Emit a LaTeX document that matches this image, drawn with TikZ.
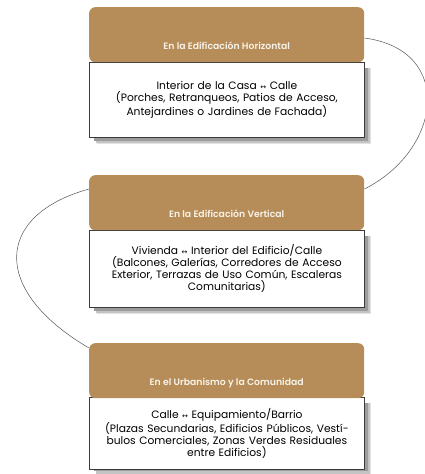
\documentclass[tikz,border=0pt]{standalone}
\usepackage{fontspec}
\setmainfont{Poppins}[BoldFont={Poppins SemiBold}]
\newfontfamily\symfont{DejaVu Sans}
\definecolor{hdr}{HTML}{B68D58}
\definecolor{hdrtxt}{HTML}{F8F3EA}
\definecolor{bord}{HTML}{3A3A3A}
\definecolor{linkc}{HTML}{555555}
\definecolor{shA}{HTML}{E2E2E2}
\definecolor{shB}{HTML}{C4C4C4}
\definecolor{shC}{HTML}{9C9C9C}
\newcommand{\lrar}{{\symfont\scriptsize ↔}}
\begin{document}
\begin{tikzpicture}[x=1pt,y=-1pt,
 header/.style={fill=hdr, rounded corners=6pt, minimum width=275pt, inner sep=0pt,
   text height=42pt, text depth=13pt, text=hdrtxt,
   font=\bfseries\fontsize{9.3}{11}\selectfont, anchor=north west},
 body/.style={draw=bord, line width=0.8pt, fill=white, minimum width=275pt,
   inner xsep=3pt, text width=268pt, align=center, anchor=north west,
   font=\fontsize{10.7}{12}\selectfont},
 link/.style={draw=linkc, line width=0.5pt}]
\useasboundingbox (0,0) rectangle (425,474);

% shadows of the white boxes
\fill[shA] (97,68) rectangle (371,144);
\fill[shB] (95.5,68) rectangle (369.5,142.5);
\fill[shC] (94,68) rectangle (368,141);
\fill[shA] (97,236) rectangle (371,314);
\fill[shB] (95.5,236) rectangle (369.5,312.5);
\fill[shC] (94,236) rectangle (368,311);
\fill[shA] (97,403) rectangle (371,474);
\fill[shB] (95.5,403) rectangle (369.5,474);
\fill[shC] (94,403) rectangle (368,471);

\node[body, minimum height=75pt] (b1) at (89,62) {Interior de la Casa \lrar{} Calle\\(Porches, Retranqueos, Patios de Acceso,\\Antejardines o Jardines de Fachada)};
\node[header] (h1) at (89,7) {En la Edificación Horizontal};

\node[body, minimum height=77pt] (b2) at (89,230) {Vivienda \lrar{} Interior del Edificio/Calle\\(Balcones, Galerías, Corredores de Acceso\\Exterior, Terrazas de Uso Común, Escaleras\\Comunitarias)};
\node[header] (h2) at (89,175) {En la Edificación Vertical};

\node[body, minimum height=72pt] (b3) at (89,397) {Calle \lrar{} Equipamiento/Barrio\\(Plazas Secundarias, Edificios Públicos, Vestí-\\bulos Comerciales, Zonas Verdes Residuales\\entre Edificios)};
\node[header] (h3) at (89,343) {En el Urbanismo y la Comunidad};

\draw[link] ([yshift=-31pt]h1.north east) .. controls (455,50) and (442,150) .. ([yshift=-14pt]h2.north east);
\draw[link] ([yshift=-14pt]h2.north west) .. controls (-5,215) and (-10,290) .. ([yshift=-5pt]h3.north west);
\end{tikzpicture}
\end{document}
